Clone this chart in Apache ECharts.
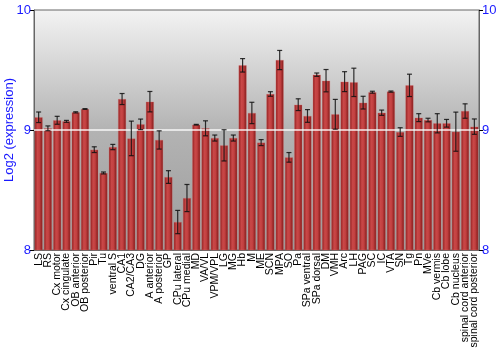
<!DOCTYPE html>
<html><head><meta charset="utf-8">
<script src="https://cdn.jsdelivr.net/npm/echarts@6/dist/echarts.min.js"></script>
<style>html,body{margin:0;padding:0;background:#fff}#c{width:500px;height:350px}</style>
</head><body><div id="c"></div>
<script>
const categories = ["LS","RS","Cx motor","Cx cingulate","OB anterior","OB posterior","Pir","Tu","ventral S","CA1","CA2/CA3","DG","A anterior","A posterior","GP","CPu lateral","CPu medial","MD","VA/VL","VPM/VPL","LG","MG","Hb","M","ME","SCN","MPA","SO","Pa","SPa ventral","SPa dorsal","DM","VMH","Arc","LH","PAG","SC","IC","VTA","SN","Tg","Pn","MVe","Cb vermis","Cb lobe","Cb nucleus","spinal cord anterior","spinal cord posterior"];
const values = [9.106,9.014,9.081,9.072,9.147,9.175,8.836,8.642,8.858,9.258,8.93,9.047,9.236,8.917,8.608,8.233,8.433,9.044,9.014,8.933,8.872,8.933,9.539,9.142,8.895,9.30,9.583,8.772,9.211,9.117,9.461,9.411,9.131,9.403,9.397,9.228,9.315,9.144,9.32,8.983,9.372,9.103,9.083,9.056,9.056,8.986,9.158,9.028];
const errors = [0.044,0.02,0.033,0.008,0.005,0.003,0.024,0.008,0.022,0.046,0.144,0.044,0.085,0.076,0.053,0.097,0.113,0.003,0.0625,0.025,0.13,0.025,0.056,0.089,0.025,0.019,0.08,0.04,0.049,0.053,0.014,0.093,0.124,0.083,0.118,0.053,0.008,0.022,0.005,0.036,0.093,0.033,0.015,0.08,0.032,0.163,0.06,0.064];
const yTicks = [8, 9, 10];

const chart = echarts.init(document.getElementById('c'), null, {renderer:'canvas'});
const blue = '#1a1aff';
const barColor = new echarts.graphic.LinearGradient(0,0,1,0,[
  {offset:0,color:'#8e1c1c'},{offset:0.35,color:'#c94848'},{offset:0.6,color:'#c24040'},{offset:1,color:'#7e1717'}]);
const errData = values.map((v,i)=>[i, v - errors[i], v + errors[i]]);
const yAxisBase = {
  type:'value', min:yTicks[0], max:yTicks[yTicks.length-1], interval:1,
  splitLine:{show:false},
  axisLine:{show:true, lineStyle:{color:'#666'}},
  axisTick:{show:true, length:4, lineStyle:{color:'#000'}},
  axisLabel:{color:blue, fontSize:13, fontFamily:'Liberation Sans, Arial', margin:3}
};
chart.setOption({
  animation:false,
  grid:{left:34, right:21, top:10, bottom:100, containLabel:false, outerBoundsMode:'none',
    show:true, borderColor:'#666', borderWidth:1,
    backgroundColor:new echarts.graphic.LinearGradient(0,0,0,1,[
      {offset:0,color:'#f3f3f3'},{offset:0.5,color:'#b3b3b3'},{offset:1,color:'#9c9c9c'}])},
  xAxis:{type:'category', data:categories,
    axisLine:{show:true, lineStyle:{color:'#666'}},
    axisTick:{show:false},
    axisLabel:{rotate:90, interval:0, color:'#000', fontSize:10.5, fontFamily:'Liberation Sans, Arial', margin:3}},
  yAxis:[
    Object.assign({}, yAxisBase, {name:'Log2 (expression)', nameLocation:'middle', nameGap:18, nameMoveOverlap:false,
      nameTextStyle:{color:blue, fontSize:13, fontFamily:'Liberation Sans, Arial'}}),
    Object.assign({}, yAxisBase, {position:'right'})
  ],
  series:[
    {type:'line', data:[], markLine:{silent:true, symbol:'none', label:{show:false},
      lineStyle:{color:'#ffffff', width:1.5, type:'solid', opacity:0.9}, data:[{yAxis:9}]}},
    {type:'bar', data:values, barCategoryGap:'14%', itemStyle:{color:barColor, borderColor:'rgba(220,110,110,0.6)', borderWidth:0.5}},
    {type:'custom', data:errData, z:10,
      renderItem:function(params, api){
        const i = api.value(0);
        const lo = api.coord([i, api.value(1)]);
        const hi = api.coord([i, api.value(2)]);
        const w = 2.5;
        const st = {stroke:'#111', lineWidth:1.2, opacity:0.85};
        return {type:'group', children:[
          {type:'line', shape:{x1:lo[0],y1:lo[1],x2:hi[0],y2:hi[1]}, style:st},
          {type:'line', shape:{x1:lo[0]-w,y1:lo[1],x2:lo[0]+w,y2:lo[1]}, style:st},
          {type:'line', shape:{x1:hi[0]-w,y1:hi[1],x2:hi[0]+w,y2:hi[1]}, style:st}
        ]};
      }}
  ]
});
</script></body></html>
